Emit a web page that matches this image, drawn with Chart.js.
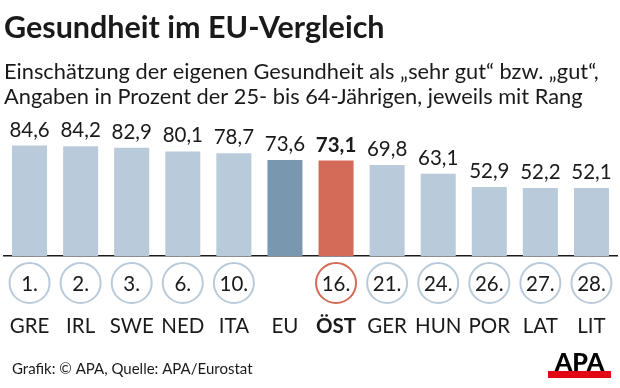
<!DOCTYPE html>
<html>
<head>
<meta charset="utf-8">
<script src="https://cdn.jsdelivr.net/npm/chart.js@4.4.1/dist/chart.umd.min.js"></script>
<style>
  html, body { margin: 0; padding: 0; background: #fff; }
  #wrap { width: 620px; height: 388px; position: relative; }
</style>
</head>
<body>
<div id="wrap"><canvas id="c" width="620" height="388"></canvas></div>
<script>
const categories = ['GRE', 'IRL', 'SWE', 'NED', 'ITA', 'EU', 'ÖST', 'GER', 'HUN', 'POR', 'LAT', 'LIT'];
const values = [84.6, 84.2, 82.9, 80.1, 78.7, 73.6, 73.1, 69.8, 63.1, 52.9, 52.2, 52.1];
const ranks = ['1.', '2.', '3.', '6.', '10.', '', '16.', '21.', '24.', '26.', '27.', '28.'];
const titleText = 'Gesundheit im EU-Vergleich';
const subtitleLines = ['Einschätzung der eigenen Gesundheit als „sehr gut“ bzw. „gut“,', 'Angaben in Prozent der 25- bis 64-Jährigen, jeweils mit Rang'];
const sourceText = 'Grafik: © APA, Quelle: APA/Eurostat';

const FONT = 'Lato, "Open Sans", sans-serif';
const LIGHT = '#b9cbda', EUC = '#7a97b0', AUT = '#d46a58', INK = '#1a1a1a';
const colorFor = c => c === 'EU' ? EUC : (c === 'ÖST' ? AUT : LIGHT);
const fmt = v => v.toFixed(1).replace('.', ',');

const overlay = {
  id: 'overlay',
  afterDatasetsDraw(chart) {
    const ctx = chart.ctx;
    const meta = chart.getDatasetMeta(0);
    const xs = chart.scales.x;
    ctx.save();
    ctx.textAlign = 'center';
    ctx.textBaseline = 'alphabetic';
    meta.data.forEach((bar, i) => {
      ctx.fillStyle = INK;
      ctx.font = (categories[i] === 'ÖST' ? 'bold ' : '') + '20.5px ' + FONT;
      ctx.fillText(fmt(values[i]), bar.x, bar.y - 9);
    });
    categories.forEach((c, i) => {
      if (!ranks[i]) return;
      const x = xs.getPixelForValue(i);
      const y = 283;
      ctx.beginPath();
      ctx.arc(x, y, 20, 0, Math.PI * 2);
      ctx.lineWidth = 2;
      ctx.strokeStyle = c === 'ÖST' ? AUT : LIGHT;
      ctx.stroke();
      ctx.fillStyle = INK;
      ctx.font = '20.5px ' + FONT;
      ctx.textBaseline = 'middle';
      ctx.fillText(ranks[i], x, y + 1);
    });
    ctx.textAlign = 'left';
    ctx.textBaseline = 'middle';
    ctx.font = '15px ' + FONT;
    ctx.fillStyle = INK;
    ctx.fillText(sourceText, 12, 369);
    ctx.fillStyle = '#e30613';
    ctx.fillRect(548, 371, 63, 7);
    ctx.fillStyle = '#000';
    ctx.font = '900 25px ' + FONT;
    ctx.textAlign = 'center';
    ctx.textBaseline = 'alphabetic';
    ctx.fillText('APA', 579.5, 371);
    ctx.restore();
  }
};

new Chart(document.getElementById('c'), {
  type: 'bar',
  data: {
    labels: categories,
    datasets: [{
      data: values,
      backgroundColor: categories.map(colorFor),
      borderWidth: 0,
      barPercentage: 0.686,
      categoryPercentage: 1
    }]
  },
  options: {
    responsive: false,
    animation: false,
    devicePixelRatio: 1,
    layout: { padding: { left: 4, right: 3, top: 0, bottom: 50 } },
    plugins: {
      legend: { display: false },
      tooltip: { enabled: false },
      title: {
        display: true, text: titleText, align: 'start', color: INK,
        font: { family: FONT, size: 30.5, weight: 'bold', lineHeight: 1.2 },
        padding: { top: 10, bottom: 12.4 }
      },
      subtitle: {
        display: true, text: subtitleLines, align: 'start', color: INK,
        font: { family: FONT, size: 21.8, weight: 'normal', lineHeight: 1.147 },
        padding: { top: 0, bottom: 16.5 }
      }
    },
    scales: {
      x: {
        grid: { display: false, drawTicks: false },
        border: { display: true, color: INK, width: 1.5 },
        ticks: {
          color: INK, padding: 58, minRotation: 0, maxRotation: 0, autoSkip: false,
          font: ctx => ({ family: FONT, size: 20.5, weight: categories[ctx.index] === 'ÖST' ? 'bold' : 'normal', lineHeight: 1.2 })
        },
        afterFit: scale => { scale.height = 82; scale.paddingLeft = 0; scale.paddingRight = 0; }
      },
      y: { display: false, min: 0, max: 100 }
    }
  },
  plugins: [overlay]
});
</script>
</body>
</html>
